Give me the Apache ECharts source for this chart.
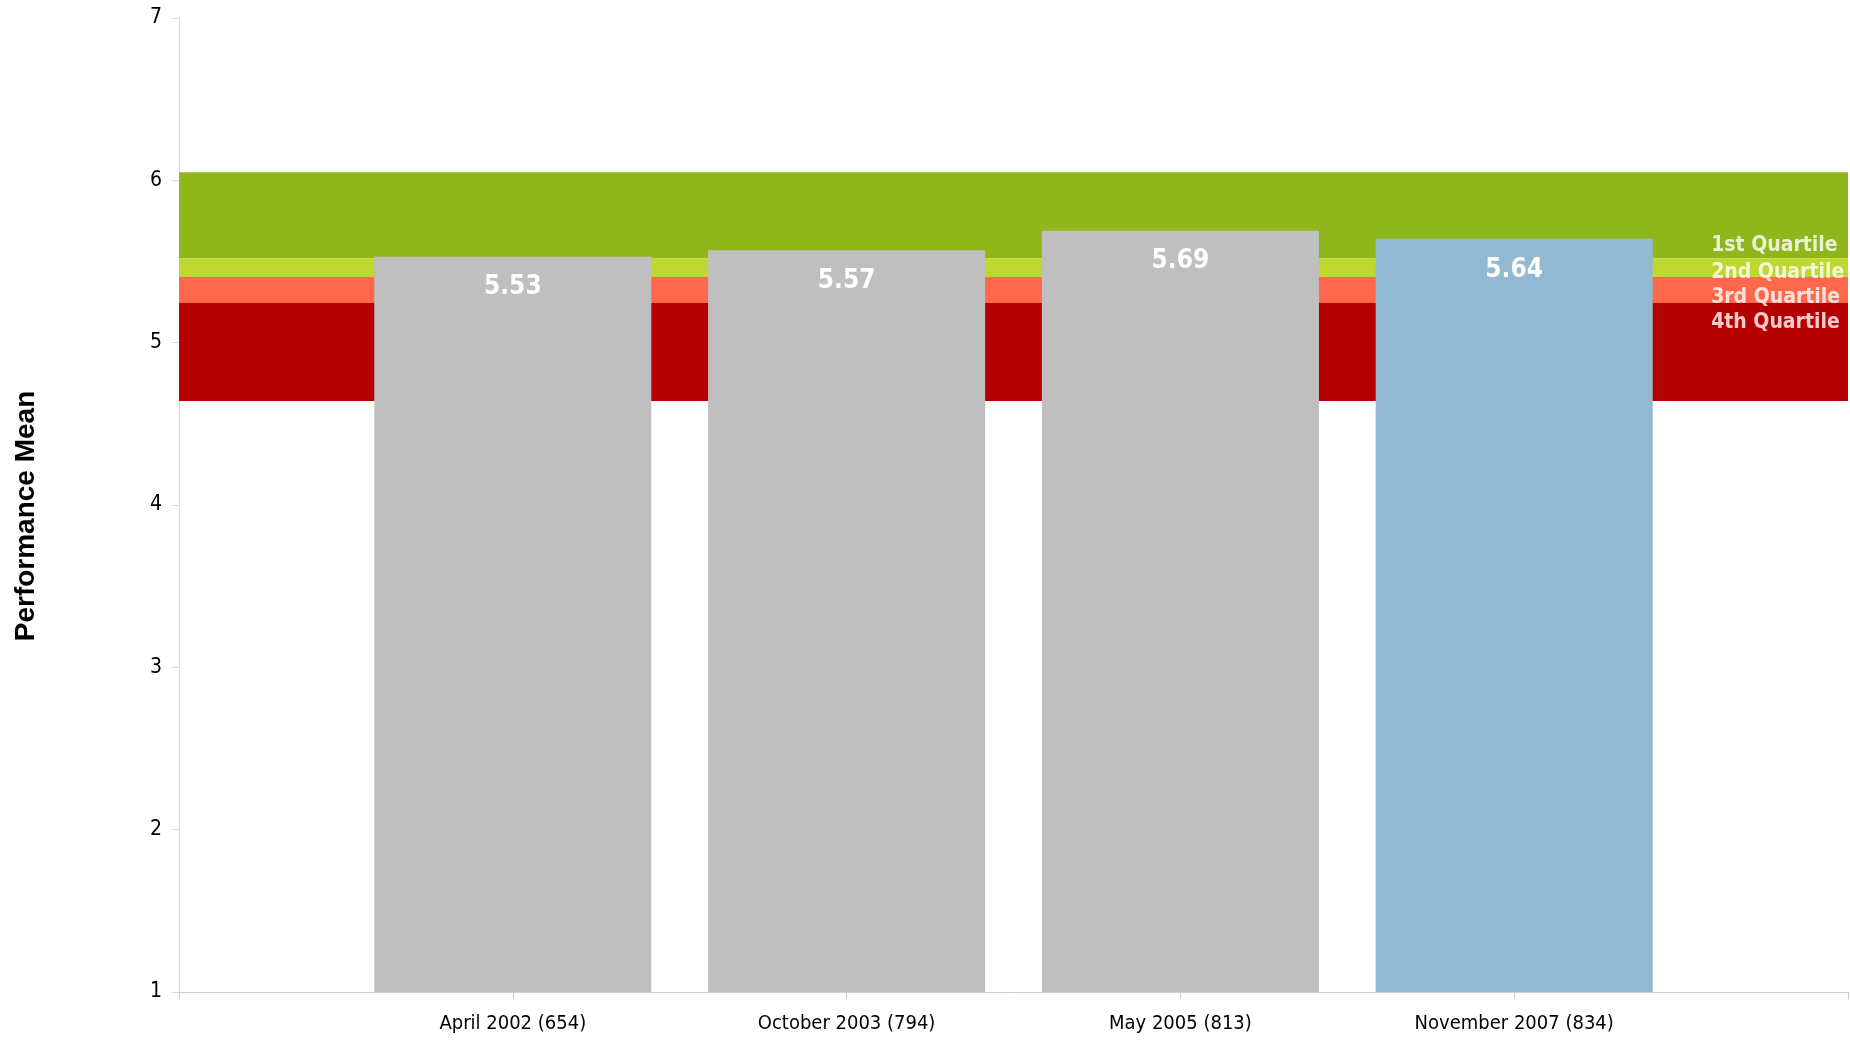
<!DOCTYPE html>
<html>
<head>
<meta charset="utf-8">
<script src="https://cdn.jsdelivr.net/npm/echarts@6/dist/echarts.min.js"></script>
<style>
  html, body { margin: 0; padding: 0; background: #fff; }
  #chart { width: 1850px; height: 1041px; }
</style>
</head>
<body>
<div id="chart"></div>
<script>
// survey waves (padded with empty slots at both ends, like the original axis)
const categories = ['', 'April 2002 (654)', 'October 2003 (794)', 'May 2005 (813)', 'November 2007 (834)', ''];
const means = [null, 5.53, 5.57, 5.69, 5.64, null];
const barColors = ['#BFBFBF', '#BFBFBF', '#BFBFBF', '#BFBFBF', '#93B8D1', '#BFBFBF'];

// quartile bands [from, to]
const bandRanges = [[5.52, 6.05], [5.405, 5.52], [5.245, 5.405], [4.64, 5.245]];
const bandColors = ['#8FB71B', '#BFD730', '#FF684A', '#B40000'];
const quartileNames = ['1st Quartile', '2nd Quartile', '3rd Quartile', '4th Quartile'];
const quartileLabelY = [5.6, 5.435, 5.28, 5.127];
const quartileLabelX = 4.59;

const yTicks = { min: 1, max: 7, interval: 1 };

const condensed = "'DejaVu Sans Condensed', 'DejaVu Sans', sans-serif";

const chart = echarts.init(document.getElementById('chart'));

const option = {
  animation: false,
  backgroundColor: '#fff',
  grid: { left: 179, right: 2, top: 18, bottom: 49, outerBoundsMode: 'none', containLabel: false },
  xAxis: [
    {
      type: 'category',
      data: categories,
      boundaryGap: false,
      axisLine: { lineStyle: { color: '#D8CACA', width: 1 } },
      axisTick: { show: true, length: 7, lineStyle: { color: '#C8C8C8' } },
      axisLabel: { color: '#000', fontSize: 20, fontFamily: condensed, margin: 22 },
      splitLine: { show: false }
    },
    { type: 'value', min: 0, max: 5, show: false }
  ],
  yAxis: {
    type: 'value',
    min: yTicks.min,
    max: yTicks.max,
    interval: yTicks.interval,
    name: 'Performance Mean',
    nameLocation: 'middle',
    nameRotate: 90,
    nameGap: 139,
    nameTextStyle: {
      color: '#000', fontSize: 28, fontWeight: 'bold',
      fontFamily: "'Liberation Sans', Arial, sans-serif",
      padding: [0, 22, 0, 0]
    },
    axisLine: { show: true, lineStyle: { color: '#D9D9D9' } },
    axisTick: { show: true, length: 7, lineStyle: { color: '#D9D9D9' } },
    axisLabel: { color: '#000', fontSize: 21, fontFamily: condensed, margin: 17 },
    splitLine: { show: false }
  },
  series: [
    {
      // quartile bands + their labels (drawn behind the bars)
      type: 'scatter',
      xAxisIndex: 1,
      z: 1,
      symbolSize: 0,
      data: quartileLabelY.map((y, i) => ({ value: [quartileLabelX, y], name: quartileNames[i] })),
      label: {
        show: true,
        position: 'right',
        distance: 0,
        formatter: p => p.name,
        color: '#fff',
        fontSize: 21,
        fontWeight: 'bold',
        fontFamily: condensed
      },
      markArea: {
        silent: true,
        itemStyle: { opacity: 1 },
        data: bandRanges.map((r, i) => [
          { yAxis: r[1], itemStyle: { color: bandColors[i] } },
          { yAxis: r[0] }
        ])
      }
    },
    {
      type: 'bar',
      z: 3,
      barWidth: '83%',
      data: means.map((v, i) => ({ value: v, itemStyle: { color: barColors[i] } })),
      label: {
        show: true,
        position: 'insideTop',
        distance: 18,
        color: '#fff',
        fontSize: 26,
        fontWeight: 'bold',
        fontFamily: condensed,
        formatter: p => p.value.toFixed(2)
      }
    }
  ]
};

chart.setOption(option);
</script>
</body>
</html>
